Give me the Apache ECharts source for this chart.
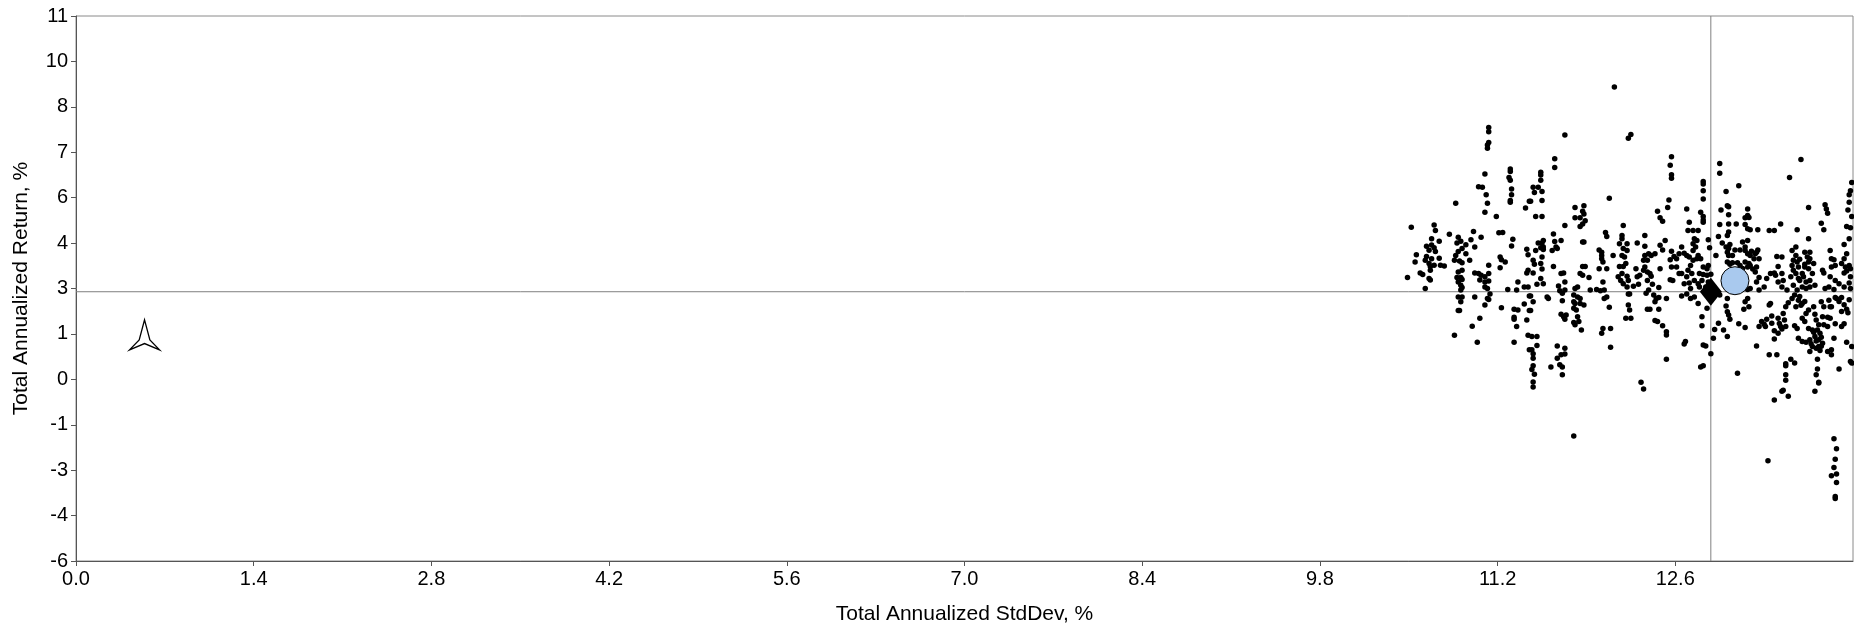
<!DOCTYPE html>
<html>
<head>
<meta charset="utf-8">
<script src="https://cdn.jsdelivr.net/npm/echarts@6/dist/echarts.min.js"></script>
<style>
html,body{margin:0;padding:0;background:#fff;}
#chart{width:1854px;height:630px;}
</style>
</head>
<body>
<div id="chart"></div>
<script>
// ---- axis settings / tick labels ----
const xTickLabels = ['0.0','1.4','2.8','4.2','5.6','7.0','8.4','9.8','11.2','12.6'];
const yTickLabels = ['-6','-4','-3','-1','0','1','3','4','6','7','8','10','11'];
const xAxisTitle = 'Total Annualized StdDev, %';
const yAxisTitle = 'Total Annualized Return, %';
const xRange = [0, 14];
const yRange = [-5.6, 11.2];

// ---- reference points ----
const benchmarkPoint = [12.88, 2.70];   // black diamond, crosshair
const portfolioPoint = [13.07, 3.04];   // blue circle
const riskFreePoint = [0.54, 1.37];     // three-pointed star

// ---- scatter of funds: [StdDev, Return] ----
const fundPoints = [
[11.13,7.76],[11.13,7.63],[11.13,7.30],[11.12,7.22],[11.12,7.12],
[11.10,6.33],[11.05,5.94],[11.08,5.92],[11.11,5.69],[11.12,5.43],[11.10,5.15],
[11.30,6.48],[11.30,6.41],[11.29,6.22],[11.30,6.14],[11.31,5.87],[11.31,5.69],[11.30,5.51],[11.30,5.46],
[10.87,5.43],[11.19,5.02],[11.42,5.28],[11.45,5.49],
[10.52,4.69],[10.70,4.76],[10.71,4.59],[10.82,4.47],[10.89,4.38],[11.01,4.56],[11.07,4.38],[11.21,4.52],[11.24,4.53],[11.32,4.32],[11.31,4.11],[11.43,4.01],[11.44,3.84],
[10.68,4.33],[10.74,4.26],[10.91,4.26],[10.88,4.20],[10.95,4.15],[10.99,4.30],[11.02,4.08],[10.64,4.10],[10.68,4.14],[10.70,4.06],[10.66,3.98],[10.71,3.94],[10.56,3.84],[10.64,3.79],[10.68,3.72],[10.74,3.73],[10.55,3.62],[10.63,3.67],[10.66,3.57],[10.67,3.48],[10.70,3.52],[10.75,3.52],[10.78,3.49],[10.87,3.82],[10.89,3.94],[10.92,4.03],[10.95,3.87],[10.86,3.67],[10.90,3.65],[10.92,3.59],[10.98,3.67],[11.13,3.52],[11.22,3.77],[11.23,3.69],[11.26,3.62],[11.22,3.44],[10.67,3.36],[10.59,3.28],[10.61,3.23],[10.66,3.11],[10.67,3.06],[10.49,3.14],[10.63,2.80],[10.89,3.31],[10.92,3.36],[10.88,3.14],[10.91,3.14],[10.92,3.08],[10.89,3.00],[10.91,2.90],[10.92,2.83],[10.91,2.75],[11.02,3.28],[11.05,3.26],[11.07,3.21],[11.10,3.16],[11.13,3.26],[11.06,3.06],[11.10,3.00],[11.13,3.03],[11.10,2.85],[11.12,2.80],[11.44,3.36],[11.43,3.28],[11.36,3.00],[11.41,2.85],[11.44,2.85],[11.28,2.77],[11.35,2.75],
[10.89,2.54],[10.92,2.54],[10.91,2.39],[11.02,2.54],[11.12,2.49],[11.13,2.46],[11.14,2.63],[11.10,2.29],[11.23,2.21],[11.33,2.16],[11.36,2.14],[10.89,2.12],[10.90,2.12],[11.06,1.88],[11.33,1.91],[11.33,1.85],[11.41,2.32],[11.43,1.83],[11.45,2.12],[11.00,1.64],[11.35,1.63],[10.86,1.36],[11.04,1.14],[11.33,1.14],[11.44,1.36],[11.45,0.91],[11.45,2.57],
[12.12,9.01],[11.73,7.53],[12.25,7.55],[12.23,7.43],[11.65,6.80],[11.65,6.53],[11.54,6.38],[11.54,6.30],[11.54,6.14],
[11.48,5.92],[11.52,5.92],[11.49,5.76],[11.55,5.79],[11.46,5.49],[11.55,5.51],[11.50,5.02],[11.55,5.02],
[12.57,6.86],[12.56,6.60],[12.57,6.31],[12.57,6.20],[12.08,5.58],[12.55,5.53],[12.54,5.30],[12.46,5.18],[12.48,4.98],[12.50,4.87],
[11.81,5.30],[11.88,5.35],[11.81,4.98],[11.85,4.98],[11.87,5.18],[11.88,5.10],[11.89,4.89],[11.87,4.79],[11.85,4.71],
[11.73,4.74],[12.69,5.25],[12.71,4.84],[12.70,4.59],[12.74,4.59],[12.19,4.74],[12.05,4.53],[12.06,4.40],
[11.64,4.48],[11.65,4.25],[11.56,4.28],[11.55,4.20],[11.56,4.08],[11.52,4.20],[11.54,4.06],[11.56,4.00],[11.50,3.97],[11.55,3.77],[11.48,3.67],[11.54,3.57],[11.49,3.55],[11.55,3.40],[11.54,3.11],[11.56,2.95],[11.51,2.93],[11.48,3.28],
[11.70,4.28],[11.63,3.97],[11.66,4.08],[11.67,4.03],[11.64,3.48],[11.87,4.23],[11.88,4.23],
[11.70,3.26],[11.72,3.28],[11.68,2.88],[11.73,3.00],[11.73,2.75],[11.69,2.73],
[11.81,2.80],[11.83,2.85],[11.85,3.26],[11.87,3.21],[11.92,3.14],[11.87,3.48],[11.89,3.48],
[11.93,2.75],[11.98,2.77],[12.01,2.73],[12.03,3.00],[12.04,2.75],
[12.00,3.99],[12.02,3.92],[12.02,3.82],[12.02,3.72],[12.03,3.62],[12.00,3.41],[12.06,3.41],[12.11,3.82],
[12.18,4.43],[12.18,4.33],[12.16,4.18],[12.22,4.18],[12.19,4.03],[12.22,3.97],[12.18,3.82],[12.20,3.77],[12.16,3.48],[12.19,3.48],[12.21,3.57],[12.15,3.16],[12.18,3.26],[12.22,3.18],[12.23,3.05],[12.19,2.95],[12.22,2.85],[12.17,3.05],
[12.30,4.20],[12.36,4.43],[12.36,4.10],[12.29,3.41],[12.27,2.87],[12.31,2.93],[12.30,3.16],[12.32,3.21],
[12.36,3.82],[12.39,3.87],[12.41,3.82],[12.44,3.87],[12.35,3.67],[12.38,3.67],[12.36,3.46],[12.35,3.36],[12.38,3.31],[12.40,3.26],[12.41,3.18],[12.38,3.05],[12.42,2.93],[12.39,2.75],[12.47,2.83],
[12.48,4.13],[12.50,3.99],[12.52,4.28],[12.48,3.41],[12.57,3.95],[12.56,3.69],[12.59,3.79],[12.56,3.07],[12.58,3.05],[12.57,3.46],[12.61,3.72],[12.63,3.87],[12.65,4.08],[12.67,3.89],[12.69,3.82],[12.61,3.46],[12.63,3.26],[12.65,3.26],[12.71,3.77],[12.72,3.51],[12.74,3.67],[12.70,3.36],[12.73,3.26],[12.69,3.16],[12.75,3.05],[12.67,2.95],[12.71,2.97],[12.72,2.80],[12.75,4.33],[12.74,4.18],[12.74,3.97],
[11.46,2.57],[11.48,2.39],[11.46,2.12],[11.47,1.32],[11.51,1.32],[11.51,1.04],[11.47,0.91],[11.48,0.79],[11.48,0.65],[11.48,0.42],[11.47,0.30],[11.49,0.16],[11.48,-0.08],[11.48,-0.24],
[11.59,2.54],[11.60,2.49],[11.71,2.65],[11.71,2.42],[11.70,2.01],[11.72,1.93],[11.74,1.98],[11.73,1.85],
[11.80,2.60],[11.83,2.54],[11.85,2.49],[11.80,2.39],[11.81,2.34],[11.85,2.34],[11.88,2.29],[11.80,2.19],[11.82,2.14],[11.83,1.93],[11.80,1.75],[11.81,1.68],[11.84,1.78],[11.86,1.52],
[11.67,1.03],[11.73,0.96],[11.70,0.76],[11.73,0.78],[11.67,0.65],[11.69,0.45],[11.71,0.38],[11.62,0.38],[11.71,0.14],
[11.80,-1.75],
[12.04,2.49],[12.06,2.54],[12.08,2.22],[12.03,1.57],[12.02,1.42],[12.09,1.57],[12.09,0.99],
[12.23,2.63],[12.24,2.63],[12.23,2.29],[12.24,2.14],[12.21,1.88],[12.25,1.88],
[12.33,-0.09],[12.35,-0.30],
[12.37,2.65],[12.43,2.60],[12.45,2.49],[12.44,2.39],[12.47,2.52],[12.38,2.16],[12.40,2.16],[12.47,2.16],[12.44,1.81],[12.46,1.78],[12.50,1.65],[12.53,1.47],[12.53,1.37],[12.53,0.62],[12.53,2.49],
[12.65,2.57],[12.69,2.63],[12.72,2.49],[12.75,2.54],[12.68,1.17],[12.67,1.09],
[12.82,6.10],[12.82,6.02],[12.82,5.81],[12.82,5.56],[12.80,5.15],[12.82,5.02],[12.82,4.91],[12.82,4.84],[12.78,4.59],
[12.86,4.30],[12.87,4.06],[12.77,4.28],[12.76,4.08],[12.78,3.82],[12.77,3.72],[12.80,3.72],[12.82,3.46],[12.85,3.41],[12.86,3.51],[12.79,3.26],[12.82,3.23],[12.85,3.21],[12.88,3.24],[12.81,3.05],[12.78,2.95],[12.79,2.85],[12.86,3.00],[12.84,2.85],
[12.95,6.65],[12.95,6.35],[13.10,5.97],[13.00,5.79],
[13.01,5.35],[13.02,5.32],[12.96,5.22],[13.02,5.07],[13.17,5.25],[13.15,4.98],[13.18,4.99],[13.17,5.05],
[12.95,4.77],[13.02,4.79],[13.08,4.79],[13.15,4.77],[13.17,4.64],[13.19,4.61],[13.25,4.61],[13.34,4.59],[13.38,4.59],[13.43,4.79],
[13.02,4.54],[13.01,4.43],[12.94,4.40],[12.97,4.20],[13.00,4.08],[13.02,4.03],[13.03,4.16],[13.01,3.92],[13.02,3.82],[13.05,3.82],[13.07,3.99],[13.11,3.99],[13.13,4.23],[13.15,4.08],[13.17,4.28],[13.15,3.97],[13.17,3.87],[13.19,3.82],[13.20,3.95],[13.23,3.87],[13.24,3.92],[13.25,3.99],[13.22,3.72],[13.26,3.72],[12.92,3.82],
[13.01,3.62],[13.03,3.55],[13.05,3.59],[13.09,3.59],[13.15,3.62],[13.18,3.57],[13.17,3.46],[13.19,3.51],[13.11,3.51],[13.24,3.46],[13.23,3.31],[13.26,3.14],[13.24,3.00],[13.30,2.85],[13.32,3.11],[13.35,3.26],[13.38,3.28],[13.39,3.21],[13.41,3.00],[13.44,2.85],[13.48,2.75],[13.26,2.75],[13.19,2.80],[13.17,2.77],
[13.40,3.79],[13.44,3.77],[13.41,3.48],[13.44,3.26],[13.45,3.05],
[13.50,6.22],[13.59,6.78],
[13.56,4.61],[13.52,3.97],[13.55,4.08],[13.55,3.82],[13.53,3.67],[13.56,3.62],[13.52,3.51],[13.53,3.36],[13.57,3.46],[13.55,3.26],[13.51,3.16],[13.57,3.11],[13.60,3.26],[13.61,3.16],[13.63,3.00],[13.60,2.85],[13.53,2.90],[13.56,2.75],
[13.65,5.30],[13.65,4.33],[13.62,3.92],[13.66,3.92],[13.64,3.77],[13.65,3.62],[13.66,3.72],[13.69,3.57],[13.62,3.46],[13.65,3.41],[13.68,3.26],[13.66,3.05],[13.66,2.85],[13.70,2.90],
[13.78,5.38],[13.79,5.25],[13.80,5.12],[13.75,4.81],[13.77,4.61],
[13.82,3.97],[13.83,3.72],[13.85,3.69],[13.83,3.46],[13.86,3.51],[13.76,3.36],[13.77,3.28],[13.82,3.16],[13.86,3.05],[13.81,2.85],[13.78,2.80],[13.85,2.77],[13.89,2.95],
[13.99,6.07],[13.98,5.81],[13.97,5.69],[13.97,5.46],[13.96,5.22],[13.99,5.02],[13.95,4.71],[13.98,4.67],[13.97,4.33],[13.93,4.16],[13.95,3.87],[13.93,3.72],[13.91,3.57],[13.94,3.46],[13.97,3.51],[13.95,3.34],[13.93,3.28],[13.98,3.41],[13.98,3.16],[13.97,2.97],[13.93,2.85],[13.98,2.80],
[12.78,2.34],[12.85,2.19],[12.81,1.93],[12.81,1.65],[12.82,1.06],[12.84,1.03],[12.80,0.38],[12.82,0.42],[12.88,0.79],
[13.01,2.49],[13.00,2.26],[13.01,2.08],[13.02,1.98],[13.03,1.85],[12.98,1.52],[13.01,1.32],[12.94,1.73],[12.91,1.54],[12.90,1.27],[12.95,2.60],[13.10,1.71],[13.15,1.60],[13.17,2.49],[13.18,2.24],[13.14,2.16],[13.15,2.39],[13.09,0.19],[13.24,1.03],
[13.26,1.63],[13.31,1.63],[13.28,1.78],[13.32,1.85],[13.34,2.29],[13.35,2.34],[13.36,1.73],[13.38,1.50],[13.38,1.24],[13.41,1.88],[13.43,1.63],[13.46,1.83],[13.47,1.63],[13.41,1.42],[13.45,2.03],[13.47,2.24],[13.49,2.36],
[13.34,0.76],[13.40,0.76],[13.47,0.48],[13.47,0.42],[13.51,0.62],[13.54,0.50],[13.47,0.14],[13.47,-0.03],[13.45,-0.34],[13.44,-0.37],[13.49,-0.52],[13.38,-0.64],[13.33,-2.51],
[13.52,2.49],[13.54,2.60],[13.57,2.44],[13.60,2.34],[13.55,2.24],[13.54,1.65],[13.56,1.57],[13.60,1.88],[13.62,1.78],[13.57,1.27],[13.60,1.17],[13.63,1.14],[13.65,1.57],[13.68,1.52],[13.70,2.01],[13.71,1.83],[13.73,1.68],[13.72,1.52],[13.74,1.42],[13.70,1.32],[13.66,1.22],[13.73,1.22],[13.76,1.11],[13.68,1.01],[13.71,0.96],[13.73,1.01],[13.66,0.86],[13.74,0.89],[13.72,0.62],[13.72,0.32],[13.71,0.14],[13.73,-0.09],[13.73,-0.11],[13.70,-0.37],
[13.77,1.68],[13.80,1.63],[13.82,1.88],[13.83,2.24],[13.86,2.52],[13.87,2.49],[13.91,2.52],[13.91,2.09],[13.95,2.16],[13.93,1.71],[13.91,1.63],[13.86,1.71],[13.85,1.27],[13.80,0.86],[13.83,0.76],[13.83,0.91],[13.89,0.32],[13.95,1.14],[13.99,1.01],[13.98,0.55],[13.99,0.50],[13.63,2.03],[13.65,2.14],[13.76,1.93],[13.80,1.91],[13.82,2.24],[13.81,2.44],[13.75,2.39],[13.77,2.24],[13.69,2.24],
[13.85,-1.83],[13.87,-2.14],[13.86,-2.46],[13.85,-2.72],[13.87,-2.92],[13.83,-2.97],[13.87,-3.18],[13.86,-3.61],[13.86,-3.67],
[13.69,1.45],[13.75,1.30],[13.71,1.18],[13.67,1.10],[13.75,1.02],[13.58,2.55],[13.62,2.40],[13.59,2.28],
[13.30,1.70],[13.36,1.95],[13.42,1.72],[13.44,1.55],[13.89,2.40],[13.93,2.30],[13.97,2.45],[13.96,2.05],
[13.58,3.70],[13.62,3.55],[13.58,3.05],[13.63,2.80],[13.13,3.42],[13.21,3.40]
];

const FONT = '"Liberation Sans", Arial, sans-serif';
const chart = echarts.init(document.getElementById('chart'), null, {renderer: 'canvas'});
const starPath = 'path://M0,-60 L16,0 L45,30 L0,11 L-45,30 L-16,0 Z';

chart.setOption({
  animation: false,
  backgroundColor: '#fff',
  grid: {left: 76, right: 1, top: 16, bottom: 66, show: true, borderColor: '#8a8a8a', borderWidth: 1, containLabel: false},
  xAxis: {
    type: 'value', min: xRange[0], max: xRange[1], interval: 1.4,
    name: xAxisTitle, nameLocation: 'middle', nameGap: 43,
    nameTextStyle: {fontFamily: FONT, fontSize: 21, color: '#000'},
    axisLine: {show: true, onZero: false, lineStyle: {color: '#555', width: 1}},
    axisTick: {show: true, length: 5, lineStyle: {color: '#555'}},
    axisLabel: {fontFamily: FONT, fontSize: 20, color: '#000', margin: 8, showMaxLabel: false,
      formatter: (v, i) => xTickLabels[i] !== undefined ? xTickLabels[i] : ''},
    splitLine: {show: false}
  },
  yAxis: {
    type: 'value', min: yRange[0], max: yRange[1], interval: 1.4,
    name: yAxisTitle, nameLocation: 'middle', nameGap: 44, nameRotate: 90,
    nameTextStyle: {fontFamily: FONT, fontSize: 21, color: '#000'},
    axisLine: {show: true, onZero: false, lineStyle: {color: '#555', width: 1}},
    axisTick: {show: true, length: 5, lineStyle: {color: '#555'}},
    axisLabel: {fontFamily: FONT, fontSize: 20, color: '#000', margin: 8,
      formatter: (v, i) => yTickLabels[i] !== undefined ? yTickLabels[i] : ''},
    splitLine: {show: false}
  },
  series: [
    {
      type: 'line', z: 1, silent: true, symbol: 'none', animation: false,
      lineStyle: {color: '#808080', width: 1},
      data: [[benchmarkPoint[0], yRange[0]], [benchmarkPoint[0], yRange[1]]]
    },
    {
      type: 'line', z: 1, silent: true, symbol: 'none', animation: false,
      lineStyle: {color: '#808080', width: 1},
      data: [[xRange[0], benchmarkPoint[1]], [xRange[1], benchmarkPoint[1]]]
    },
    {
      type: 'scatter', data: fundPoints, z: 2, symbol: 'circle', symbolSize: 5.5,
      itemStyle: {color: '#000', opacity: 1}, silent: true
    },
    {
      type: 'scatter', data: [benchmarkPoint], z: 3, symbol: 'diamond', symbolSize: [22, 28],
      itemStyle: {color: '#000', opacity: 1}, silent: true
    },
    {
      type: 'scatter', data: [portfolioPoint], z: 4, symbol: 'circle', symbolSize: 28,
      itemStyle: {color: '#A9C9EE', borderColor: '#000', borderWidth: 1, opacity: 1}, silent: true
    },
    {
      type: 'scatter', data: [riskFreePoint], z: 4, symbol: starPath, symbolSize: 30,
      itemStyle: {color: '#fff', borderColor: '#000', borderWidth: 1.3, opacity: 1}, silent: true
    }
  ]
});
</script>
</body>
</html>
